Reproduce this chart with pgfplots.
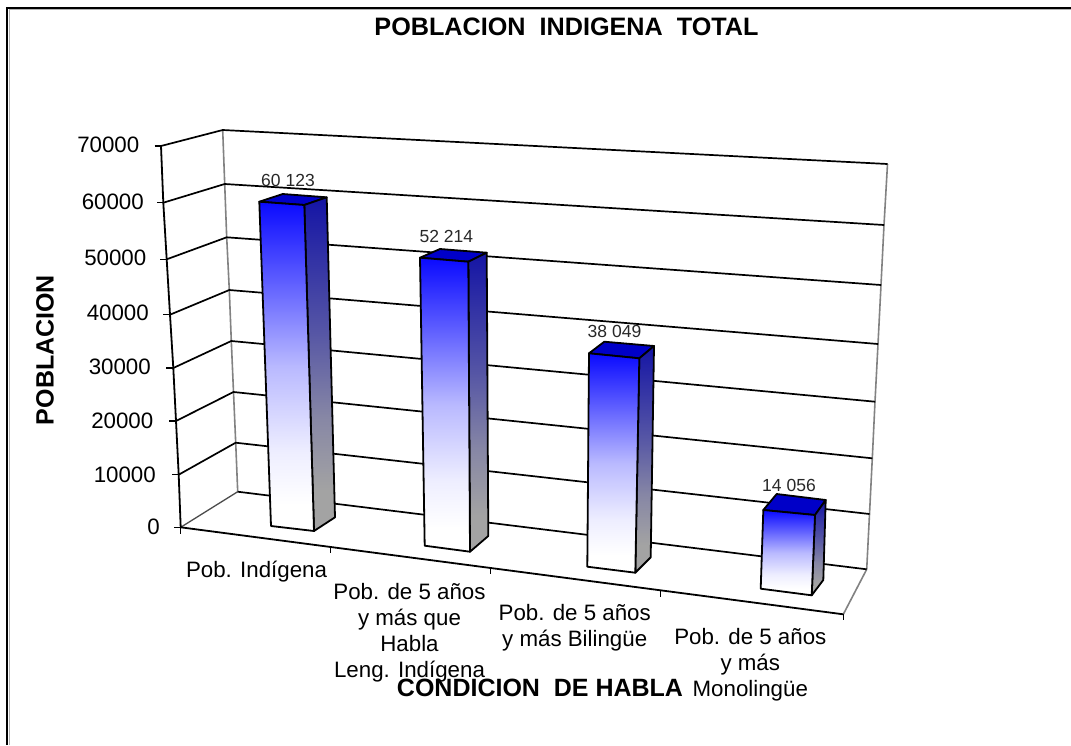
\documentclass[border=0pt]{standalone}
\usepackage{fontspec}
\setmainfont{Liberation Sans}
\usepackage{pgfplots}
\pgfplotsset{compat=1.18}
\definecolor{wallgray}{RGB}{130,130,130}
\definecolor{topface}{RGB}{0,0,200}
\definecolor{lblgray}{RGB}{40,40,40}
\definecolor{fa}{RGB}{238,238,255}
\definecolor{fb}{RGB}{185,185,255}
\definecolor{fc}{RGB}{100,100,255}
\definecolor{fd}{RGB}{10,10,255}
\definecolor{sa}{RGB}{163,163,163}
\definecolor{sb}{RGB}{135,135,165}
\definecolor{sc}{RGB}{85,85,165}
\definecolor{sd}{RGB}{20,20,165}
\newcommand{\reg}{\fontsize{22.3}{26}\selectfont}
% 25bp = bottom of the shape, 75bp = top of the shape
\pgfdeclareverticalshading{frontbar}{100bp}{
  color(0bp)=(white); color(29bp)=(white);
  color(37bp)=(fa);
  color(50bp)=(fb);
  color(62bp)=(fc);
  color(75bp)=(fd);
  color(100bp)=(fd)}
\pgfdeclareverticalshading{sidebar}{100bp}{
  color(0bp)=(sa); color(31bp)=(sa);
  color(42bp)=(sb);
  color(55bp)=(sc);
  color(75bp)=(sd);
  color(100bp)=(sd)}
\pgfplotsset{
  front/.style={draw=black,line width=1.8pt,line join=round,shade,shading=frontbar},
  side/.style={draw=black,line width=1.8pt,line join=round,shade,shading=sidebar},
  topf/.style={draw=black,line width=1.8pt,line join=round,fill=topface},
  grid3d/.style={black,line width=1.7pt,no marks},
  wall/.style={wallgray,line width=1.6pt,no marks},
  tk/.style={black,line width=1.5pt,no marks},
}
\begin{document}
\begin{tikzpicture}
\fill[white] (0,0) rectangle (1071pt,745pt);
\path[use as bounding box] (0,0) rectangle (1071pt,745pt);
\begin{axis}[
  at={(0,0)},anchor=south west,
  scale only axis,width=1071pt,height=745pt,
  xmin=0,xmax=1071,ymin=0,ymax=745,y dir=reverse,
  hide axis,clip=false,
]
% frame
\addplot[gray!60,line width=1pt,no marks] coordinates {(9,745) (9,9.5) (1071,9.5)};
\addplot[black,line width=2pt,no marks] coordinates {(7,745) (7,7.5) (1071,7.5)};
% back wall edges
\addplot[wall] coordinates {(222.7,130) (224.7,184) (226.7,237.3) (229.3,290) (231.3,341) (233.5,392) (235.7,442.7) (237.7,491.7)};
\addplot[wall] coordinates {(887.5,164) (884,225) (881,285) (878,344) (875,401.7) (872.3,458.3) (869.5,514) (866.7,569.3)};
\addplot[wall] coordinates {(866.7,569.3) (843.3,614.3)};
\addplot[no marks,line width=1.3pt,color=black!70] coordinates {(237.7,491.7) (180.7,527.3)};
% gridlines: front left -> back left -> back right
\addplot[grid3d] coordinates {(161,146) (222.7,130) (887.5,164)};
\addplot[grid3d] coordinates {(163.3,202.7) (224.7,184) (884,225)};
\addplot[grid3d] coordinates {(166.7,259.3) (226.7,237.3) (881,285)};
\addplot[grid3d] coordinates {(170,314.7) (229.3,290) (878,344)};
\addplot[grid3d] coordinates {(173.3,368) (231.3,341) (875,401.7)};
\addplot[grid3d] coordinates {(176,421) (233.5,392) (872.3,458.3)};
\addplot[grid3d] coordinates {(178.7,474.7) (235.7,442.7) (869.5,514)};
\addplot[grid3d] coordinates {(237.7,491.7) (866.7,569.3)};
% value axis
\addplot[black,line width=1.8pt,no marks] coordinates {(161,146) (163.3,202.7) (166.7,259.3) (170,314.7) (173.3,368) (176,421) (178.7,474.7) (180.7,527.3)};
% value ticks
\addplot[tk] coordinates {(154.5,146) (161,146)};
\addplot[tk] coordinates {(157,202.7) (163.3,202.7)};
\addplot[tk] coordinates {(160,259.3) (166.7,259.3)};
\addplot[tk] coordinates {(163,314.7) (170,314.7)};
\addplot[tk] coordinates {(166,368) (173.3,368)};
\addplot[tk] coordinates {(169,421) (176,421)};
\addplot[tk] coordinates {(172,474.7) (178.7,474.7)};
\addplot[tk] coordinates {(174,527.3) (180.7,527.3)};
% category axis
\addplot[black,line width=1.8pt,no marks] coordinates {(180.7,527.3) (843.3,614.3)};
\addplot[tk] coordinates {(180.7,527.3) (180.7,534)};
\addplot[tk] coordinates {(330.7,547) (330.7,553)};
\addplot[tk] coordinates {(490.7,568) (490.7,574)};
\addplot[tk] coordinates {(660.7,591) (660.7,597)};
\addplot[tk] coordinates {(843.3,614.3) (843.3,620)};
% bar 1: 60123
\addplot[topf] coordinates {(259.3,201.7) (282.7,194) (326.7,197.3) (304.3,205)} --cycle;
\addplot[side] coordinates {(304.3,205) (326.7,197.3) (335,517.3) (314,531)} --cycle;
\addplot[front] coordinates {(259.3,201.7) (304.3,205) (314,531) (271,526)} --cycle;
% bar 2: 52214
\addplot[topf] coordinates {(420,257.7) (440,249) (486.7,252.7) (468.3,261.7)} --cycle;
\addplot[side] coordinates {(468.3,261.7) (486.7,252.7) (488.3,536) (470,551.7)} --cycle;
\addplot[front] coordinates {(420,257.7) (468.3,261.7) (470,551.7) (424.7,545.7)} --cycle;
% bar 3: 38049
\addplot[topf] coordinates {(589,353.3) (604.3,341.7) (654,346) (639.3,358.3)} --cycle;
\addplot[side] coordinates {(639.3,358.3) (654,346) (650.7,557.3) (635.3,572.7)} --cycle;
\addplot[front] coordinates {(589,353.3) (639.3,358.3) (635.3,572.7) (587.3,566.7)} --cycle;
% bar 4: 14056
\addplot[topf] coordinates {(763.3,510) (776.7,494) (825.7,500) (815,515)} --cycle;
\addplot[side] coordinates {(815,515) (825.7,500) (823.3,580) (811.7,595.3)} --cycle;
\addplot[front] coordinates {(763.3,510) (815,515) (811.7,595.3) (760.7,588.7)} --cycle;
% value labels on bars
\node[text=lblgray,font=\fontsize{17.5}{20}\selectfont] at (axis cs:288,180.7) {60 123};
\node[text=lblgray,font=\fontsize{17.5}{20}\selectfont] at (axis cs:446.3,236.7) {52 214};
\node[text=lblgray,font=\fontsize{17.5}{20}\selectfont] at (axis cs:614.5,331.7) {38 049};
\node[text=lblgray,font=\fontsize{17.5}{20}\selectfont] at (axis cs:789,485.7) {14 056};
% value tick labels
\node[anchor=east,inner sep=0,font=\reg] at (axis cs:139.5,145) {70000};
\node[anchor=east,inner sep=0,font=\reg] at (axis cs:144,202) {60000};
\node[anchor=east,inner sep=0,font=\reg] at (axis cs:146.5,258) {50000};
\node[anchor=east,inner sep=0,font=\reg] at (axis cs:149,313) {40000};
\node[anchor=east,inner sep=0,font=\reg] at (axis cs:151,367) {30000};
\node[anchor=east,inner sep=0,font=\reg] at (axis cs:153.5,421) {20000};
\node[anchor=east,inner sep=0,font=\reg] at (axis cs:156,475) {10000};
\node[anchor=east,inner sep=0,font=\reg] at (axis cs:160,527) {0};
% category labels
\node[align=center,inner sep=0,font=\reg] at (axis cs:256.5,572) {Pob. Indígena};
\node[align=center,inner sep=0,font=\reg] at (axis cs:409.5,632.5) {Pob. de 5 años\\y más que\\Habla\\Leng. Indígena};
\node[align=center,inner sep=0,font=\reg] at (axis cs:574.7,628) {Pob. de 5 años\\y más Bilingüe};
\node[align=center,inner sep=0,font=\reg] at (axis cs:750.3,664.7) {Pob. de 5 años\\y más\\Monolingüe};
% titles
\node[font=\fontsize{25.2}{30}\selectfont\bfseries] at (axis cs:566.5,27) {POBLACION\ \ INDIGENA\ \ TOTAL};
\node[font=\fontsize{25}{30}\selectfont\bfseries] at (axis cs:540,688) {CONDICION\ \ DE HABLA};
\node[rotate=90,font=\fontsize{25}{30}\selectfont\bfseries] at (axis cs:45,350) {POBLACION};
\end{axis}
\end{tikzpicture}
\end{document}
